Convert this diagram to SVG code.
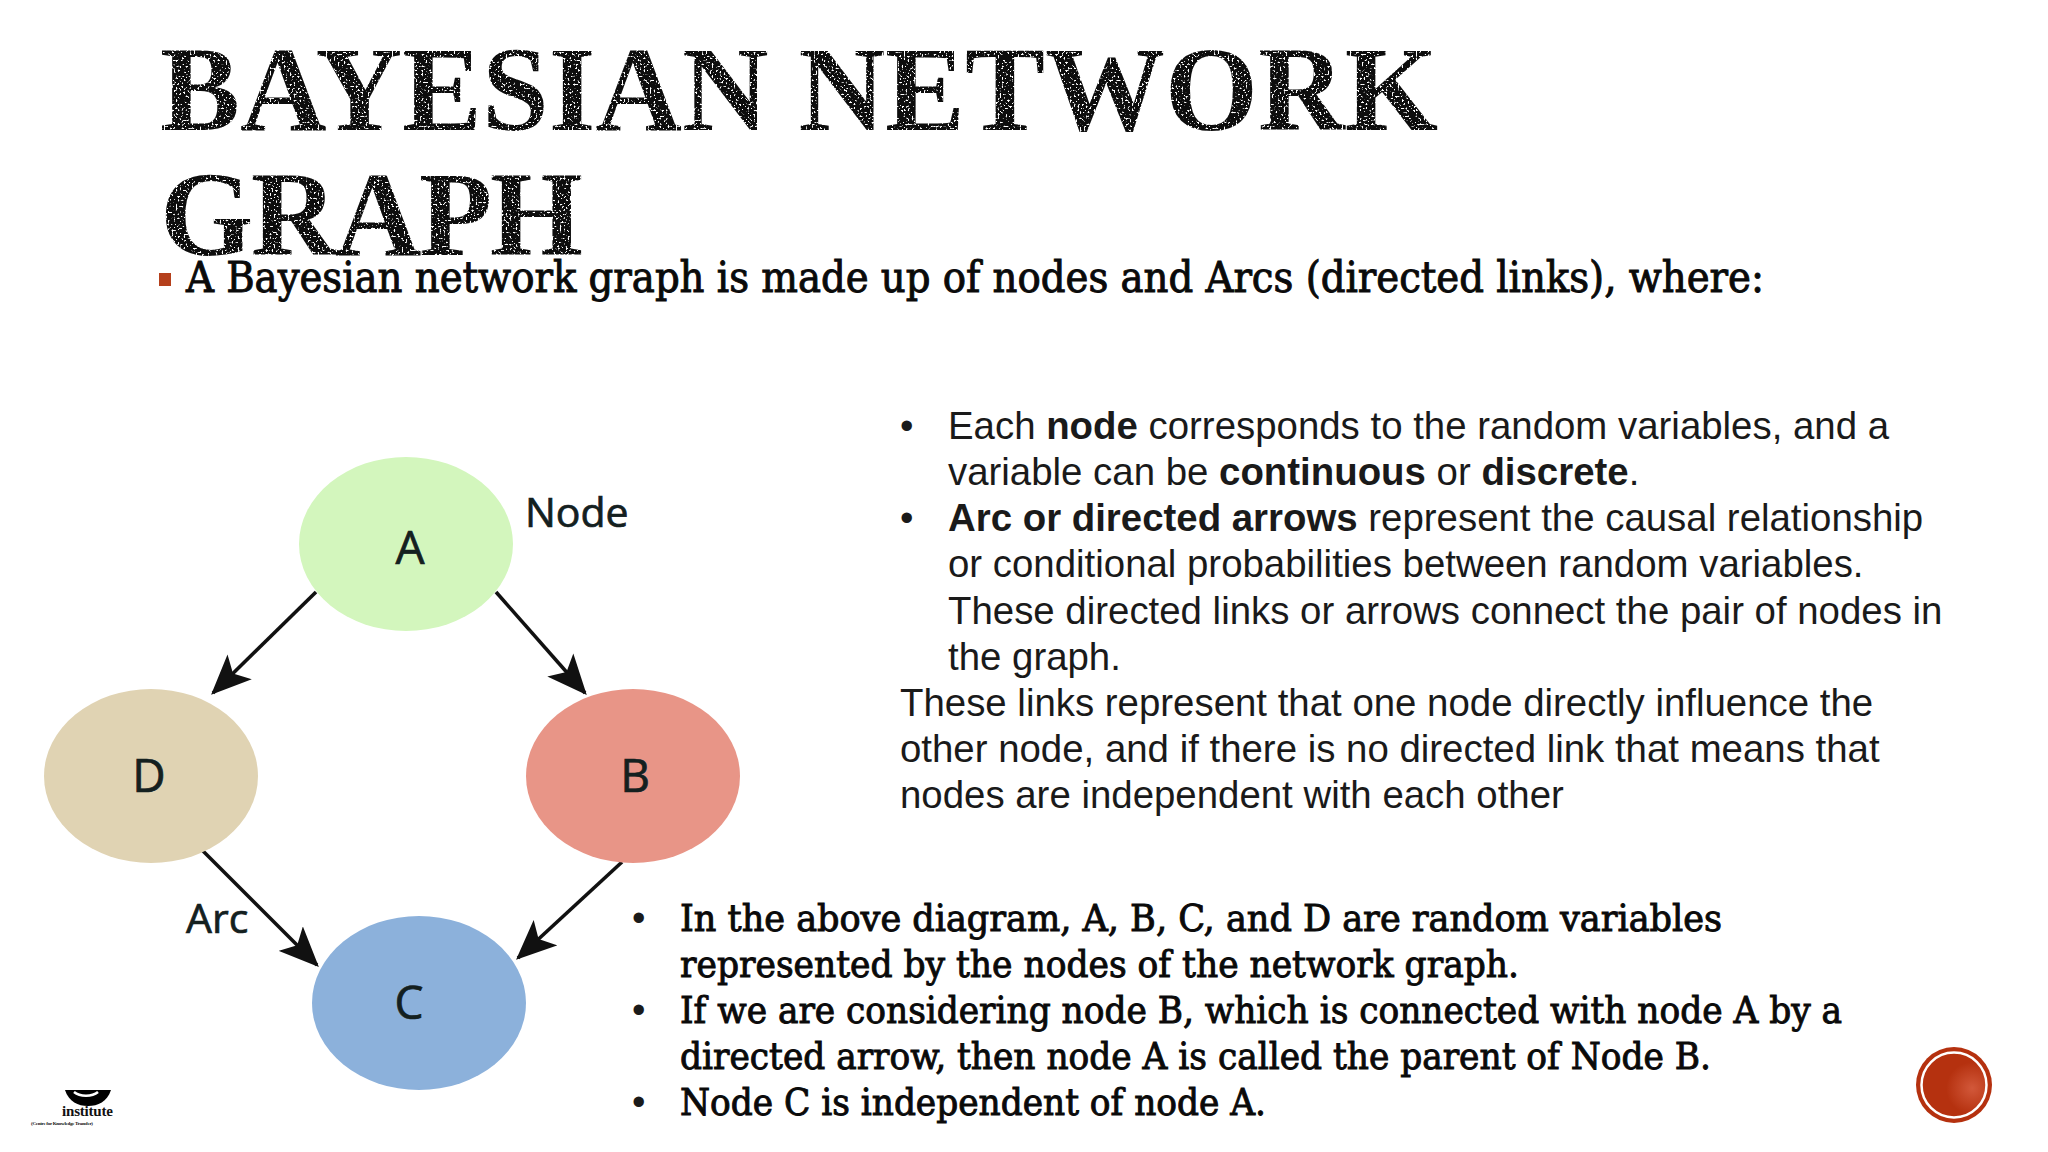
<svg xmlns="http://www.w3.org/2000/svg" width="2048" height="1152" viewBox="0 0 2048 1152">
<style>
.title{font-family:"Liberation Serif","DejaVu Serif",serif;font-weight:700;font-size:120px;fill:#0a0a0a}
.serif{font-family:"DejaVu Serif","Liberation Serif",serif;font-stretch:condensed;font-size:38px;fill:#0a0a0a;stroke:#0a0a0a;stroke-width:.9px}
.sans{font-family:"Liberation Sans",Arial,sans-serif;font-size:38.4px;fill:#1a1a1a}
.sans tspan.b{font-weight:700}
.lab{font-family:"Open Sans","Noto Sans",sans-serif;fill:#14201f;stroke:#14201f;stroke-width:.7px}
.big{font-size:46px;text-anchor:middle}
.small{font-size:41px}
.edge{stroke:#111;stroke-width:3.6;fill:none;marker-end:url(#ah)}
</style>
<defs>
<marker id="ah" viewBox="0 0 30 26" refX="28" refY="13" markerUnits="userSpaceOnUse" markerWidth="40" markerHeight="35" orient="auto"><path d="M0 0L30 13L0 26L7 13Z" fill="#111"/></marker>
<filter id="grain" x="0" y="0" width="100%" height="100%"><feTurbulence type="fractalNoise" baseFrequency="0.5" numOctaves="2" seed="4" result="n"/><feColorMatrix in="n" type="matrix" values="0 0 0 0 0 0 0 0 0 0 0 0 0 0 0 0 0 0 -9 6.2" result="m"/><feComposite in="SourceGraphic" in2="m" operator="in"/></filter>
<radialGradient id="badge" cx=".78" cy=".55" r=".4"><stop offset="0" stop-color="#d2583a"/><stop offset="1" stop-color="#b5310f"/></radialGradient>
</defs>
<rect width="2048" height="1152" fill="#fff"/>
<g id="title" filter="url(#grain)">
<text class="title" x="160" y="130" textLength="1278" lengthAdjust="spacing">BAYESIAN NETWORK</text>
<text class="title" x="160" y="255" textLength="423" lengthAdjust="spacing">GRAPH</text>
</g>
<g id="intro">
<rect x="159" y="273" width="12" height="13" fill="#b5401c"/>
<text class="serif" x="186" y="292" style="font-size:42px" textLength="1578" lengthAdjust="spacingAndGlyphs">A Bayesian network graph is made up of nodes and Arcs (directed links), where:</text>
</g>
<g id="connectors">
<path class="edge" d="M316 592L213 693"/>
<path class="edge" d="M496 592L585 693"/>
<path class="edge" d="M201 849L317 965"/>
<path class="edge" d="M622 862L518 958"/>
</g>
<g id="node-a"><ellipse cx="406" cy="544" rx="107" ry="87" fill="#d3f6bd"/><text class="lab big" x="410" y="564">A</text></g>
<g id="node-d"><ellipse cx="151" cy="776" rx="107" ry="87" fill="#e0d3b3"/><text class="lab big" x="149" y="792">D</text></g>
<g id="node-b"><ellipse cx="633" cy="776" rx="107" ry="87" fill="#e89587"/><text class="lab big" x="635" y="792">B</text></g>
<g id="node-c"><ellipse cx="419" cy="1003" rx="107" ry="87" fill="#8cb1db"/><text class="lab big" x="409" y="1019">C</text></g>
<text class="lab small" x="525" y="527">Node</text>
<text class="lab small" x="186" y="933">Arc</text>
<g id="right-text">
<text class="sans" x="900" y="439">•</text><text class="sans" x="948" y="439">Each <tspan class="b">node</tspan> corresponds to the random variables, and a</text>
<text class="sans" x="948" y="485">variable can be <tspan class="b">continuous</tspan> or <tspan class="b">discrete</tspan>.</text>
<text class="sans" x="900" y="531">•</text><text class="sans" x="948" y="531"><tspan class="b">Arc or directed arrows</tspan> represent the causal relationship</text>
<text class="sans" x="948" y="577">or conditional probabilities between random variables.</text>
<text class="sans" x="948" y="623.500">These directed links or arrows connect the pair of nodes in</text>
<text class="sans" x="948" y="669.500">the graph.</text>
<text class="sans" x="900" y="715.500">These links represent that one node directly influence the</text>
<text class="sans" x="900" y="761.500">other node, and if there is no directed link that means that</text>
<text class="sans" x="900" y="807.500">nodes are independent with each other</text>
</g>
<g id="lower-text">
<text class="sans" x="632" y="931">•</text><text class="serif" x="680" y="931" textLength="1042" lengthAdjust="spacingAndGlyphs">In the above diagram, A, B, C, and D are random variables</text>
<text class="serif" x="680" y="977" textLength="839" lengthAdjust="spacingAndGlyphs">represented by the nodes of the network graph.</text>
<text class="sans" x="632" y="1023">•</text><text class="serif" x="680" y="1023" textLength="1162" lengthAdjust="spacingAndGlyphs">If we are considering node B, which is connected with node A by a</text>
<text class="serif" x="680" y="1069" textLength="1031" lengthAdjust="spacingAndGlyphs">directed arrow, then node A is called the parent of Node B.</text>
<text class="sans" x="632" y="1115">•</text><text class="serif" x="680" y="1115" textLength="586" lengthAdjust="spacingAndGlyphs">Node C is independent of node A.</text>
</g>
<g id="logo">
<path d="M65 1090H111C107 1102 98 1106 88 1106C78 1106 69 1102 65 1090Z" fill="#000"/>
<path d="M74 1092C80 1097 92 1097 98 1092" stroke="#fff" stroke-width="2.5" fill="none"/>
<text x="62" y="1116" font-family="Liberation Serif,serif" font-weight="700" font-size="15" fill="#111" textLength="51">institute</text>
<text x="31" y="1125" font-family="Liberation Serif,serif" font-weight="700" font-size="5" fill="#111" textLength="62">(Centre for Knowledge Transfer)</text>
</g>
<g id="badge-mark">
<circle cx="1954" cy="1085" r="38" fill="#b5310f"/>
<circle cx="1954" cy="1085" r="32.5" fill="url(#badge)" stroke="#fff" stroke-width="2.5"/>
</g>
</svg>
